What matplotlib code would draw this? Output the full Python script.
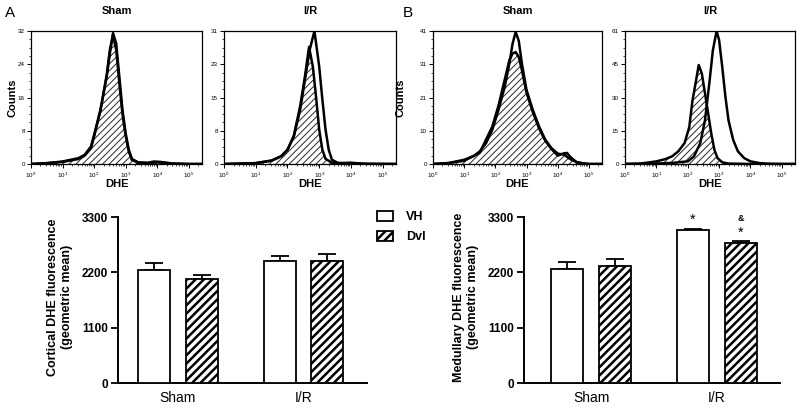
import numpy as np
import matplotlib as mpl
mpl.use('Agg')
import matplotlib.pyplot as plt
from matplotlib.ticker import FixedLocator, AutoMinorLocator, LogLocator, NullFormatter

plt.rcParams['font.family'] = ['Liberation Sans', 'DejaVu Sans']
plt.rcParams['mathtext.fontset'] = 'custom'
plt.rcParams['mathtext.rm'] = 'Liberation Sans'

# histogram curves: log10(DHE) positions and counts
a_sham_open_x = [0.0, 0.5, 1.0, 1.5, 1.7, 1.9, 2.0, 2.2, 2.4, 2.5, 2.6, 2.7, 2.8, 2.9, 3.0, 3.1, 3.2, 3.4, 3.7, 3.9, 4.1, 4.5, 5.0, 5.42]
a_sham_open_y = [0.0, 0.2, 0.6, 1.4, 2.2, 4.2, 7.0, 13.0, 21.0, 26.6, 31.5, 29.0, 21.0, 13.0, 7.4, 3.4, 1.2, 0.4, 0.3, 0.6, 0.5, 0.1, 0.0, 0.0]
a_sham_hat_x = [0.0, 0.5, 1.0, 1.5, 1.7, 1.9, 2.0, 2.2, 2.4, 2.5, 2.6, 2.7, 2.8, 2.9, 3.0, 3.1, 3.2, 3.4, 3.7, 4.0, 4.5, 5.0, 5.42]
a_sham_hat_y = [0.0, 0.2, 0.5, 1.2, 2.0, 3.8, 6.6, 12.8, 21.5, 27.5, 31.0, 27.5, 19.5, 12.0, 6.8, 3.0, 1.0, 0.3, 0.2, 0.4, 0.1, 0.0, 0.0]

a_ir_open_x = [0.0, 0.5, 1.0, 1.5, 1.8, 2.0, 2.2, 2.4, 2.55, 2.7, 2.85, 3.0, 3.1, 3.2, 3.3, 3.4, 3.6, 4.0, 4.5, 5.42]
a_ir_open_y = [0.0, 0.1, 0.2, 0.8, 1.8, 3.3, 6.4, 12.6, 19.6, 26.6, 31.0, 22.7, 15.0, 8.0, 3.3, 1.0, 0.2, 0.3, 0.0, 0.0]
a_ir_hat_x = [0.0, 0.5, 1.0, 1.5, 1.8, 2.0, 2.2, 2.4, 2.55, 2.68, 2.8, 2.9, 3.0, 3.1, 3.2, 3.4, 4.0, 5.42]
a_ir_hat_y = [0.0, 0.1, 0.2, 0.8, 1.8, 3.3, 6.6, 13.5, 20.4, 27.3, 22.7, 15.7, 8.0, 3.3, 1.2, 0.3, 0.1, 0.0]

b_sham_open_x = [0.0, 0.5, 1.0, 1.3, 1.5, 1.7, 1.9, 2.1, 2.3, 2.45, 2.55, 2.65, 2.75, 2.85, 3.0, 3.2, 3.4, 3.6, 3.8, 4.0, 4.2, 4.4, 4.6, 4.8, 5.0, 5.42]
b_sham_open_y = [0.0, 0.3, 1.3, 2.4, 3.9, 6.4, 10.5, 16.7, 23.8, 31.0, 37.0, 40.7, 38.0, 31.0, 22.8, 16.7, 11.6, 7.5, 4.9, 3.2, 2.9, 1.5, 0.6, 0.2, 0.0, 0.0]
b_sham_hat_x = [0.0, 0.5, 1.0, 1.5, 1.9, 2.1, 2.3, 2.45, 2.55, 2.65, 2.75, 2.85, 3.0, 3.2, 3.4, 3.6, 3.8, 4.0, 4.2, 4.3, 4.4, 4.6, 4.8, 5.0, 5.42]
b_sham_hat_y = [0.0, 0.3, 1.0, 3.5, 11.5, 18.0, 26.0, 32.0, 34.0, 34.5, 33.0, 29.0, 22.0, 16.0, 11.0, 7.2, 4.6, 2.6, 3.3, 3.4, 2.2, 0.6, 0.2, 0.0, 0.0]

b_ir_open_x = [0.0, 0.5, 1.0, 1.5, 2.0, 2.2, 2.4, 2.55, 2.7, 2.8, 2.92, 3.0, 3.1, 3.2, 3.3, 3.45, 3.6, 3.8, 4.0, 4.3, 4.6, 5.0, 5.42]
b_ir_open_y = [0.0, 0.1, 0.2, 0.5, 1.2, 3.5, 9.6, 20.0, 38.5, 52.0, 61.0, 56.8, 44.6, 31.0, 20.0, 11.0, 5.8, 2.7, 1.2, 0.4, 0.1, 0.0, 0.0]
b_ir_hat_x = [0.0, 0.5, 1.0, 1.3, 1.5, 1.7, 1.9, 2.05, 2.15, 2.25, 2.35, 2.45, 2.55, 2.65, 2.75, 2.85, 2.95, 3.1, 3.3, 4.0, 5.42]
b_ir_hat_y = [0.0, 0.2, 1.2, 2.3, 3.5, 5.8, 9.6, 17.0, 29.0, 37.0, 45.4, 41.5, 32.4, 23.3, 14.0, 6.5, 2.7, 0.8, 0.2, 0.0, 0.0]

hist_titles = ['Sham', 'I/R', 'Sham', 'I/R']
hist_ymax = [32, 31, 41, 61]
hist_yticklabels = [['0', '8', '16', '24', '32'],
                    ['0', '8', '15', '23', '31'],
                    ['0', '10', '21', '31', '41'],
                    ['0', '15', '30', '45', '61']]

# bar charts
groups = ['Sham', 'I/R']
cortical_vh = [2240, 2420]
cortical_vh_err = [150, 100]
cortical_dvl = [2070, 2430]
cortical_dvl_err = [70, 140]
medullary_vh = [2265, 3040]
medullary_vh_err = [135, 22]
medullary_dvl = [2325, 2775]
medullary_dvl_err = [150, 52]
bar_yticks = [0, 1100, 2200, 3300]

W, H = 800, 408
fig = plt.figure(figsize=(8, 4.08), dpi=100)


def fr(left, top, right, bottom):
    return [left / W, 1 - bottom / H, (right - left) / W, (bottom - top) / H]


hist_boxes = [fr(31, 31, 202, 164), fr(224, 31, 396, 164),
              fr(433, 31, 602, 164), fr(625, 31, 795, 164)]
curves = [(a_sham_open_x, a_sham_open_y, a_sham_hat_x, a_sham_hat_y),
          (a_ir_open_x, a_ir_open_y, a_ir_hat_x, a_ir_hat_y),
          (b_sham_open_x, b_sham_open_y, b_sham_hat_x, b_sham_hat_y),
          (b_ir_open_x, b_ir_open_y, b_ir_hat_x, b_ir_hat_y)]

plt.rcParams['hatch.linewidth'] = 0.75
for i, box in enumerate(hist_boxes):
    ax = fig.add_axes(box)
    ox, oy, hx, hy = curves[i]
    hx = 10 ** np.array(hx)
    ox = 10 ** np.array(ox)
    ax.fill_between(hx, 0, hy, facecolor='white', edgecolor='#333333', hatch='/////', linewidth=0)
    ax.plot(hx, hy, color='black', lw=1.8)
    ax.plot(ox, oy, color='black', lw=1.8)
    ax.set_xscale('log')
    ax.set_xlim(1, 10 ** 5.42)
    ax.set_ylim(0, hist_ymax[i])
    ax.xaxis.set_major_locator(FixedLocator([1, 10, 100, 1e3, 1e4, 1e5]))
    ax.set_xticklabels(['$10^{%d}$' % k for k in range(6)])
    ax.xaxis.set_minor_locator(LogLocator(base=10, subs=np.arange(2, 10)))
    ax.xaxis.set_minor_formatter(NullFormatter())
    ax.set_yticks(np.linspace(0, hist_ymax[i], 5))
    ax.set_yticklabels(hist_yticklabels[i])
    ax.yaxis.set_minor_locator(AutoMinorLocator(4))
    ax.tick_params(which='major', length=3, width=0.7, labelsize=4.5, pad=1.5)
    ax.tick_params(which='minor', length=1.5, width=0.5)
    for s in ax.spines.values():
        s.set_linewidth(0.9)
    cx = (box[0] + box[2] / 2)
    fig.text(cx, 1 - 11 / H, hist_titles[i], ha='center', va='center', fontsize=8, fontweight='bold')
    fig.text(cx, 1 - 184 / H, 'DHE', ha='center', va='center', fontsize=8, fontweight='bold')

fig.text(12 / W, 1 - 98 / H, 'Counts', rotation=90, ha='center', va='center', fontsize=8, fontweight='bold')
fig.text(401 / W, 1 - 98 / H, 'Counts', rotation=90, ha='center', va='center', fontsize=8, fontweight='bold')
fig.text(5 / W, 1 - 13 / H, 'A', ha='left', va='center', fontsize=11)
fig.text(403 / W, 1 - 13 / H, 'B', ha='left', va='center', fontsize=11)

plt.rcParams['hatch.linewidth'] = 1.8
x = np.arange(len(groups))
off, bw = 0.19, 0.255


def bar_panel(box, vh, vh_err, dvl, dvl_err, xlim, ylabel, ylabel_x):
    ax = fig.add_axes(box)
    b1 = ax.bar(x - off, vh, bw, color='white', edgecolor='black', lw=1.3, zorder=3)
    b2 = ax.bar(x + off, dvl, bw, color='white', edgecolor='black', lw=1.3, hatch='////', zorder=3)
    for xs, v, e in [(x - off, vh, vh_err), (x + off, dvl, dvl_err)]:
        ax.errorbar(xs, v, yerr=[np.zeros(len(v)), e], fmt='none', ecolor='black',
                    elinewidth=1.3, capsize=6.5, capthick=1.3, zorder=2)
    ax.set_xlim(*xlim)
    ax.set_ylim(0, 3300)
    ax.set_yticks(bar_yticks)
    ax.set_yticklabels([str(t) for t in bar_yticks], fontweight='bold')
    ax.set_xticks(x)
    ax.set_xticklabels(groups)
    ax.tick_params(axis='y', length=5, width=1.3, labelsize=8.5, pad=2)
    ax.tick_params(axis='x', length=0, labelsize=10, pad=6)
    for s in ['top', 'right']:
        ax.spines[s].set_visible(False)
    for s in ['left', 'bottom']:
        ax.spines[s].set_linewidth(1.4)
    fig.text(ylabel_x / W, 1 - 297 / H, ylabel, rotation=90, ha='center', va='center',
             fontsize=9, fontweight='bold', multialignment='center', linespacing=1.2)
    return ax, b1, b2


axA, b1, b2 = bar_panel(fr(118, 217, 367, 383), cortical_vh, cortical_vh_err, cortical_dvl, cortical_dvl_err,
                        (-0.478, 1.506), 'Cortical DHE fluorescence\n(geometric mean)', 60)
axB, _, _ = bar_panel(fr(524, 217, 780, 383), medullary_vh, medullary_vh_err, medullary_dvl, medullary_dvl_err,
                      (-0.533, 1.503), 'Medullary DHE fluorescence\n(geometric mean)', 466)

axB.text(x[1] - off, medullary_vh[1] + medullary_vh_err[1] + 40, '*', ha='center', va='bottom', fontsize=10.5, clip_on=False)
axB.text(x[1] + off, medullary_dvl[1] + medullary_dvl_err[1] + 30, '*', ha='center', va='bottom', fontsize=10.5, clip_on=False)
axB.text(x[1] + off, medullary_dvl[1] + medullary_dvl_err[1] + 360, '&', ha='center', va='bottom', fontsize=6.5, fontweight='bold', clip_on=False)

fig.legend([b1, b2], ['VH', 'Dvl'], loc='upper left', bbox_to_anchor=(377 / W, 1 - 211 / H),
           frameon=False, prop={'size': 9, 'weight': 'bold'}, handlelength=1.3, handleheight=0.8,
           labelspacing=0.65, borderpad=0, borderaxespad=0, handletextpad=1.0)

plt.savefig('out.png', dpi=100)
